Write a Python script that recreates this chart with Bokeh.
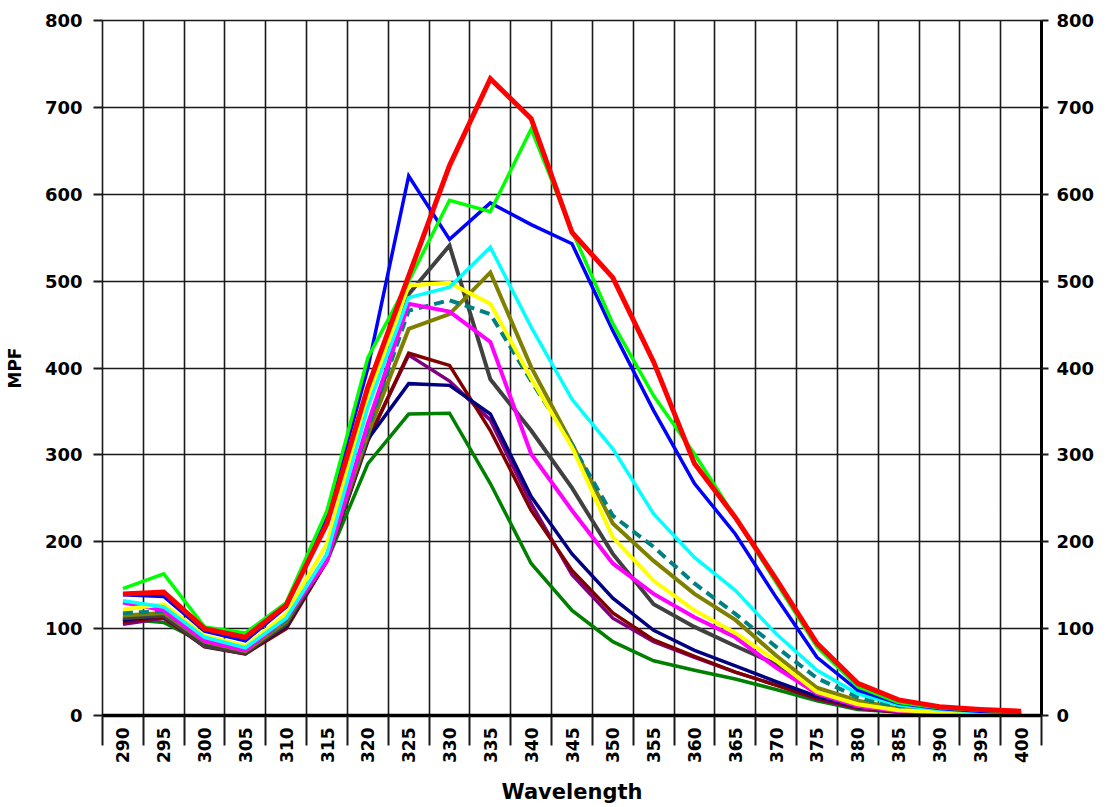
import math
from bokeh.plotting import figure
from bokeh.models import Range1d, FixedTicker, LinearAxis
from bokeh.embed import file_html
from bokeh.resources import INLINE

# Wavelength categories (nm)
wavelengths = [290, 295, 300, 305, 310, 315, 320, 325, 330, 335, 340, 345,
               350, 355, 360, 365, 370, 375, 380, 385, 390, 395, 400]

# MPF readings per series
mpf_red = [140, 142, 100, 90, 127, 221, 378, 506, 633, 733, 687, 556,
           504, 407, 290, 228, 157, 83, 37, 18, 10, 7, 5]
mpf_lime = [146, 163, 102, 95, 130, 236, 412, 500, 593, 580, 675, 558,
            451, 368, 301, 228, 153, 79, 33, 15, 9, 6, 4]
mpf_blue = [139, 137, 97, 86, 125, 230, 400, 621, 548, 590, 565, 543,
            443, 351, 267, 209, 136, 67, 29, 14, 8, 5, 4]
mpf_cyan = [132, 125, 90, 78, 112, 186, 355, 481, 493, 539, 447, 364,
            307, 232, 182, 144, 94, 52, 25, 12, 7, 4, 3]
mpf_yellow = [122, 128, 92, 80, 117, 198, 366, 495, 498, 474, 388, 309,
              205, 155, 121, 95, 63, 27, 13, 6, 4, 3, 3]
mpf_olive = [115, 118, 85, 74, 108, 185, 324, 445, 462, 510, 401, 313,
             221, 178, 140, 110, 69, 32, 17, 8, 5, 3, 2]
mpf_teal = [118, 120, 86, 76, 110, 185, 330, 466, 478, 462, 385, 312,
            230, 194, 152, 117, 79, 43, 21, 9, 5, 3, 2]
mpf_gray = [112, 115, 80, 72, 105, 180, 320, 485, 541, 387, 328, 262,
            186, 128, 102, 80, 59, 27, 12, 6, 4, 3, 2]
mpf_magenta = [130, 121, 86, 75, 112, 178, 336, 474, 465, 430, 301, 236,
               175, 140, 113, 90, 55, 25, 11, 5, 3, 2, 2]
mpf_maroon = [108, 113, 79, 71, 100, 178, 316, 417, 403, 328, 236, 167,
              118, 87, 68, 50, 35, 20, 9, 4, 3, 2, 1]
mpf_purple = [105, 112, 80, 71, 102, 178, 318, 415, 385, 340, 244, 162,
              112, 85, 67, 50, 35, 19, 8, 4, 2, 2, 1]
mpf_navy = [110, 115, 80, 72, 103, 180, 318, 382, 380, 347, 252, 186,
            135, 98, 75, 57, 39, 22, 10, 5, 3, 2, 1]
mpf_darkgreen = [111, 107, 83, 72, 104, 178, 290, 347, 348, 267, 175, 121,
                 85, 63, 52, 42, 30, 17, 7, 4, 2, 1, 1]

y_ticks = [0, 100, 200, 300, 400, 500, 600, 700, 800]

# (values, colour, width, dash) drawn bottom to top
series = [
    (mpf_darkgreen, "#008000", 3.5, "solid"),
    (mpf_purple, "#800080", 3.5, "solid"),
    (mpf_maroon, "#800000", 3.5, "solid"),
    (mpf_navy, "#000080", 3.5, "solid"),
    (mpf_gray, "#404040", 4, "solid"),
    (mpf_olive, "#808000", 4, "solid"),
    (mpf_teal, "#008080", 4, "10 6"),
    (mpf_magenta, "#FF00FF", 4, "solid"),
    (mpf_yellow, "#FFFF00", 4, "solid"),
    (mpf_cyan, "#00FFFF", 3.5, "solid"),
    (mpf_blue, "#0000FF", 3.5, "solid"),
    (mpf_lime, "#00FF00", 3.5, "solid"),
    (mpf_red, "#FF0000", 5, "solid"),
]

step = wavelengths[1] - wavelengths[0]
bounds = [w - step / 2 for w in wavelengths] + [wavelengths[-1] + step / 2]

p = figure(width=1107, height=807, output_backend="svg", toolbar_location=None,
           x_range=Range1d(bounds[0], bounds[-1]), y_range=Range1d(0, 800),
           min_border_left=102, min_border_right=66, min_border_top=20,
           min_border_bottom=92)
p.background_fill_color = "white"
p.border_fill_color = "white"
p.outline_line_color = "#1a1a1a"
p.outline_line_width = 1.6

FONT = "DejaVu Sans"

# grid: vertical lines on category boundaries, horizontal every 100
p.xgrid.ticker = FixedTicker(ticks=bounds)
p.ygrid.ticker = FixedTicker(ticks=y_ticks)
for g in (p.xgrid, p.ygrid):
    g.grid_line_color = "#1a1a1a"
    g.grid_line_width = 1.6
    g.grid_line_alpha = 1.0

# bottom axis: labels at category centres, long ticks on the boundaries
xa = p.xaxis[0]
xa.ticker = FixedTicker(ticks=wavelengths, minor_ticks=bounds)
xa.major_tick_out = 0
xa.major_tick_in = 0
xa.minor_tick_out = 30
xa.minor_tick_in = 0
xa.minor_tick_line_color = "#1a1a1a"
xa.minor_tick_line_width = 2
xa.axis_line_color = "black"
xa.axis_line_width = 3.5
xa.major_label_orientation = math.pi / 2
# labels sit alongside the long boundary ticks, not below them
xa.major_label_standoff = -18
xa.major_label_text_font = FONT
xa.major_label_text_font_style = "bold"
xa.major_label_text_font_size = "17px"
xa.major_label_text_color = "black"
xa.axis_label = "Wavelength"
xa.axis_label_text_font = FONT
xa.axis_label_text_font_style = "bold"
xa.axis_label_text_font_size = "21px"
xa.axis_label_text_color = "black"
xa.axis_label_standoff = 14

# left axis
ya = p.yaxis[0]
ya.ticker = FixedTicker(ticks=y_ticks)
ya.minor_tick_line_color = None
ya.major_tick_out = 9
ya.major_tick_in = 0
ya.major_tick_line_color = "#1a1a1a"
ya.major_tick_line_width = 2
ya.axis_line_color = None
ya.major_label_standoff = 11
ya.major_label_text_font = FONT
ya.major_label_text_font_style = "bold"
ya.major_label_text_font_size = "18px"
ya.major_label_text_color = "black"
ya.axis_label = "MPF"
ya.axis_label_text_font = FONT
ya.axis_label_text_font_style = "bold"
ya.axis_label_text_font_size = "17px"
ya.axis_label_text_color = "black"
ya.axis_label_standoff = 17

# right axis
ra = LinearAxis(ticker=FixedTicker(ticks=y_ticks))
ra.minor_tick_line_color = None
ra.major_tick_out = 7
ra.major_tick_in = 0
ra.major_tick_line_color = "#1a1a1a"
ra.major_tick_line_width = 2
ra.axis_line_color = "black"
ra.axis_line_width = 3
ra.major_label_standoff = 8
ra.major_label_text_font = FONT
ra.major_label_text_font_style = "bold"
ra.major_label_text_font_size = "18px"
ra.major_label_text_color = "black"
p.add_layout(ra, "right")

for values, colour, width, dash in series:
    p.line(wavelengths, values, line_color=colour, line_width=width,
           line_dash=dash, line_join="miter")

open("out.html", "w").write(file_html(p, INLINE))
